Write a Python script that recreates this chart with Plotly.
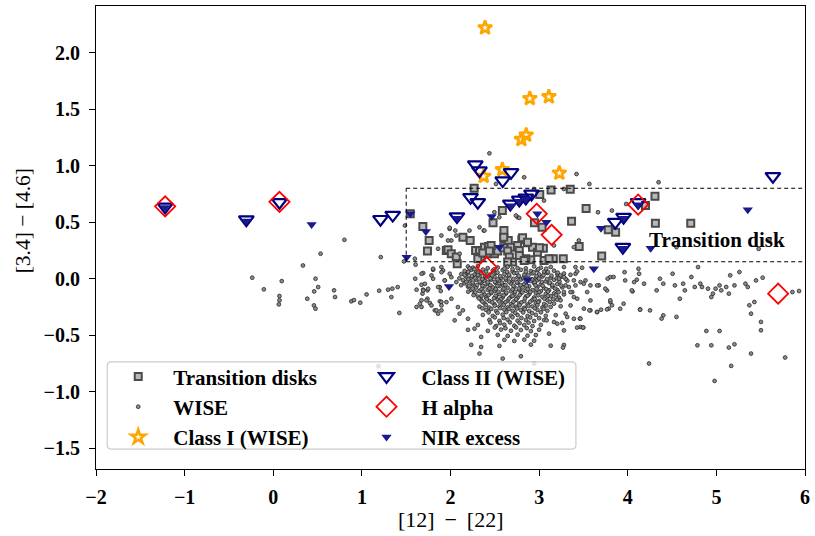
import plotly.graph_objects as go

# ---------------- data ----------------
trans_x = [1.546, 1.688, 1.759, 1.74, 1.953, 2.267, 3.135, 3.351, 3.007, 4.307, 3.53, 2.585, 2.48, 3.366,
           2.947, 3.033, 2.603, 2.603, 2.14, 2.222, 3.452, 3.048, 2.805, 2.869, 2.925, 2.652, 2.683, 2.757,
           2.776, 3.78, 3.863, 4.312, 4.711, 4.2, 3.706, 3.16, 3.272, 2.906, 2.85, 1.972, 2.009, 2.065,
           2.076, 2.283, 2.327, 2.383, 2.428, 2.346, 2.413, 2.496, 2.533, 2.308, 2.364, 2.458, 2.439,
           2.6, 2.645, 2.664, 2.701, 2.6, 2.813, 2.869, 2.776, 2.832, 2.981, 3.056, 3.112, 2.645, 3.003]
trans_y = [0.574, 0.462, 0.338, 0.244, 0.25, 0.8, 0.785, 0.791, 0.744, 0.729, 0.62, 0.603, 0.494, 0.508,
           0.494, 0.455, 0.426, 0.353, 0.367, 0.338, 0.285, 0.27, 0.344, 0.318, 0.279, 0.338, 0.279, 0.294,
           0.25, 0.432, 0.411, 0.491, 0.491, 0.647, 0.2, 0.177, 0.177, 0.168, 0.177, 0.256, 0.221, 0.191,
           0.132, 0.25, 0.244, 0.279, 0.285, 0.191, 0.221, 0.221, 0.244, 0.177, 0.227, 0.294, 0.244,
           0.274, 0.244, 0.191, 0.147, 0.367, 0.362, 0.323, 0.206, 0.162, 0.235, 0.162, 0.177, 0.147, 0.274]

wise_points = [
    # sparse left part
    (0.803, 0.344), (0.534, 0.221), (0.335, 0.117), (1.213, 0.191), (-0.237, 0.009), (0.096, -0.021),
    (0.477, 0.0), (-0.106, -0.094), (0.07, -0.153), (0.07, -0.191), (0.063, -0.227), (0.384, -0.177),
    (0.462, -0.112), (0.507, -0.074), (0.459, -0.236), (0.477, -0.265), (0.686, -0.103), (0.697, -0.162),
    (0.881, -0.2), (0.911, -0.189), (0.982, -0.212), (1.053, -0.139), (1.195, -0.106), (1.296, -0.097),
    (1.344, -0.088), (1.404, -0.074), (1.333, -0.162), (1.423, -0.303), (1.475, 0.153), (1.606, 0.124),
    (1.602, 0.0), (1.692, 0.05), (1.804, 0.079), (1.897, 0.103), (1.617, -0.097), (1.673, -0.053),
    (1.692, -0.097), (1.74, -0.103), (1.684, -0.132), (1.673, -0.191), (1.74, -0.177), (1.767, -0.215),
    (1.673, -0.25), (1.617, -0.25), (1.823, -0.28), (1.86, -0.309), (1.897, -0.28), (1.879, -0.2),
    (1.897, -0.206), (1.804, 0.0), (1.879, -0.074), (1.89, -0.109), (1.935, -0.015), (1.916, 0.073),
    (1.187, -0.774),
    # above / inside the box
    (2.439, 1.109), (3.422, 0.926), (2.831, 0.897), (3.567, 0.838), (4.348, 0.853), (2.513, 0.838),
    (1.486, 0.47), (1.897, 0.382), (1.99, 0.441), (2.009, 0.338), (2.065, 0.382), (2.214, 0.426),
    (2.327, 0.455), (2.375, 0.426), (2.495, 0.588), (2.551, 0.544), (2.756, 0.544), (3.167, 0.294),
    (3.392, 0.279), (3.448, 0.338), (3.664, 0.588), (3.821, 0.603), (3.982, 0.661), (5.477, 0.264),
    (5.596, 0.338), (4.55, 0.279), (3.055, 0.691), (2.943, 0.794), (3.279, 0.794), (1.86, 0.265),
    (1.598, 0.177), (1.804, 0.088), (1.991, 0.45), (2.054, 0.426), (2.383, 0.426), (1.972, 0.338),
    (2.103, 0.221), (2.738, 0.559), (2.776, 0.538),
    # dense cluster
    (2.197, 0.108), (2.253, 0.097), (2.309, 0.112), (2.533, 0.099), (2.645, 0.105), (2.757, 0.094),
    (2.944, 0.109), (3.019, 0.098), (3.131, 0.104),
    (2.159, 0.069), (2.234, 0.078), (2.29, 0.066), (2.365, 0.081), (2.477, 0.07), (2.589, 0.076),
    (2.701, 0.064), (2.794, 0.079), (2.907, 0.068), (2.981, 0.075), (3.056, 0.062), (3.168, 0.071),
    (2.122, 0.041), (2.197, 0.05), (2.271, 0.037), (2.346, 0.048), (2.439, 0.036), (2.514, 0.052),
    (2.608, 0.04), (2.72, 0.049), (2.832, 0.035), (2.925, 0.047), (3.0, 0.038), (3.093, 0.051),
    (3.205, 0.04), (3.28, 0.046),
    (2.178, 0.019), (2.234, 0.008), (2.327, 0.021), (2.402, 0.01), (2.496, 0.018), (2.57, 0.006),
    (2.664, 0.02), (2.757, 0.011), (2.869, 0.017), (2.963, 0.005), (3.037, 0.019), (3.131, 0.009),
    (3.243, 0.016),
    (2.14, -0.012), (2.215, -0.022), (2.29, -0.009), (2.383, -0.019), (2.458, -0.008), (2.552, -0.021),
    (2.626, -0.011), (2.701, -0.018), (2.794, -0.007), (2.907, -0.02), (2.981, -0.013), (3.075, -0.024),
    (3.168, -0.01), (3.318, -0.017),
    (2.159, -0.041), (2.253, -0.05), (2.346, -0.038), (2.421, -0.047), (2.514, -0.04), (2.589, -0.052),
    (2.682, -0.043), (2.757, -0.036), (2.832, -0.049), (2.944, -0.04), (3.019, -0.051), (3.112, -0.039),
    (3.205, -0.047),
    (2.197, -0.07), (2.29, -0.079), (2.383, -0.068), (2.477, -0.077), (2.552, -0.066), (2.645, -0.081),
    (2.72, -0.071), (2.813, -0.078), (2.888, -0.067), (2.981, -0.075), (3.056, -0.083), (3.149, -0.069),
    (3.262, -0.077),
    (2.234, -0.099), (2.327, -0.109), (2.421, -0.098), (2.496, -0.108), (2.589, -0.1), (2.682, -0.111),
    (2.776, -0.097), (2.851, -0.106), (2.925, -0.101), (3.019, -0.11), (3.112, -0.102), (3.205, -0.099),
    (2.271, -0.129), (2.383, -0.138), (2.458, -0.127), (2.552, -0.136), (2.626, -0.131), (2.72, -0.14),
    (2.794, -0.128), (2.888, -0.137), (2.963, -0.126), (3.075, -0.135), (3.168, -0.13), (3.28, -0.139),
    (2.309, -0.158), (2.402, -0.167), (2.514, -0.156), (2.589, -0.165), (2.682, -0.159), (2.757, -0.168),
    (2.851, -0.157), (2.944, -0.166), (3.037, -0.16), (3.131, -0.155), (3.224, -0.167),
    (2.346, -0.188), (2.439, -0.197), (2.533, -0.186), (2.645, -0.195), (2.738, -0.189), (2.832, -0.198),
    (2.925, -0.187), (3.0, -0.196), (3.093, -0.19), (3.205, -0.185),
    (2.383, -0.218), (2.496, -0.226), (2.589, -0.215), (2.682, -0.225), (2.776, -0.219), (2.869, -0.228),
    (2.963, -0.216), (3.056, -0.224), (3.168, -0.22),
    (2.327, -0.247), (2.439, -0.256), (2.552, -0.245), (2.645, -0.254), (2.738, -0.248), (2.832, -0.257),
    (2.925, -0.246), (3.037, -0.255), (3.131, -0.249), (3.243, -0.244),
    (2.402, -0.276), (2.514, -0.285), (2.608, -0.274), (2.701, -0.284), (2.794, -0.277), (2.888, -0.286),
    (2.981, -0.275), (3.093, -0.283),
    (2.365, -0.32), (2.477, -0.329), (2.589, -0.318), (2.682, -0.327), (2.757, -0.321), (2.869, -0.33),
    (2.963, -0.319), (3.075, -0.328), (3.187, -0.322),
    (2.439, -0.364), (2.552, -0.373), (2.645, -0.362), (2.757, -0.371), (2.851, -0.365), (2.944, -0.374),
    (3.056, -0.366),
    (2.309, -0.409), (2.514, -0.418), (2.608, -0.407), (2.72, -0.416), (2.832, -0.41), (2.925, -0.419),
    (3.019, -0.408),
    (2.197, -0.452), (2.421, -0.461), (2.57, -0.45), (2.682, -0.46), (2.794, -0.454), (2.907, -0.463),
    (3.0, -0.451),
    (2.533, -0.497), (2.645, -0.506), (2.757, -0.495), (2.869, -0.504), (2.963, -0.498),
    (2.608, -0.541), (2.72, -0.55), (2.832, -0.539), (2.944, -0.548),
    (2.234, -0.585), (2.552, -0.594), (2.907, -0.583), (3.131, -0.592), (3.28, -0.586),
    # dense cluster, points between the rows above
    (2.215, 0.091), (2.27, 0.084), (2.42, 0.093), (2.49, 0.082), (2.61, 0.09), (2.70, 0.085),
    (2.85, 0.092), (2.99, 0.083), (3.08, 0.089),
    (2.20, 0.061), (2.31, 0.054), (2.40, 0.063), (2.53, 0.055), (2.64, 0.06), (2.75, 0.052),
    (2.85, 0.062), (2.94, 0.056), (3.10, 0.059), (3.21, 0.053),
    (2.16, 0.031), (2.24, 0.024), (2.31, 0.033), (2.39, 0.026), (2.47, 0.03), (2.56, 0.022),
    (2.66, 0.034), (2.77, 0.025), (2.88, 0.031), (2.97, 0.023), (3.05, 0.032), (3.14, 0.027),
    (3.24, 0.03),
    (2.10, 0.003), (2.2, -0.004), (2.28, 0.005), (2.36, -0.003), (2.45, 0.002), (2.53, -0.006),
    (2.62, 0.004), (2.71, -0.002), (2.82, 0.006), (2.92, -0.005), (3.0, 0.001), (3.09, -0.003),
    (3.2, 0.004), (3.3, -0.002),
    (2.18, -0.027), (2.25, -0.034), (2.33, -0.026), (2.42, -0.032), (2.5, -0.028), (2.58, -0.035),
    (2.66, -0.025), (2.75, -0.031), (2.85, -0.027), (2.95, -0.033), (3.03, -0.029), (3.12, -0.034),
    (3.23, -0.026),
    (2.12, -0.057), (2.21, -0.063), (2.3, -0.055), (2.36, -0.062), (2.45, -0.058), (2.53, -0.064),
    (2.62, -0.056), (2.71, -0.061), (2.79, -0.057), (2.86, -0.063), (2.96, -0.059), (3.04, -0.062),
    (3.15, -0.056), (3.25, -0.061),
    (2.25, -0.087), (2.35, -0.093), (2.44, -0.086), (2.51, -0.092), (2.6, -0.088), (2.7, -0.094),
    (2.77, -0.086), (2.87, -0.091), (2.97, -0.089), (3.08, -0.093), (3.18, -0.087),
    (2.2, -0.115), (2.28, -0.121), (2.37, -0.114), (2.46, -0.12), (2.54, -0.116), (2.63, -0.122),
    (2.73, -0.115), (2.81, -0.12), (2.9, -0.117), (3.0, -0.121), (3.1, -0.114), (3.22, -0.119),
    (2.26, -0.145), (2.35, -0.151), (2.43, -0.144), (2.51, -0.15), (2.6, -0.146), (2.7, -0.152),
    (2.78, -0.145), (2.87, -0.15), (2.99, -0.147), (3.1, -0.151), (3.19, -0.144),
    (2.32, -0.174), (2.41, -0.18), (2.49, -0.173), (2.57, -0.179), (2.66, -0.175), (2.74, -0.181),
    (2.84, -0.174), (2.95, -0.179), (3.06, -0.176), (3.16, -0.18),
    (2.36, -0.203), (2.47, -0.209), (2.55, -0.202), (2.62, -0.208), (2.71, -0.204), (2.8, -0.21),
    (2.9, -0.203), (2.99, -0.208), (3.12, -0.205),
    (2.4, -0.233), (2.5, -0.239), (2.6, -0.232), (2.7, -0.238), (2.78, -0.234), (2.88, -0.24),
    (2.98, -0.233), (3.08, -0.237),
    (2.36, -0.262), (2.46, -0.268), (2.56, -0.261), (2.66, -0.267), (2.75, -0.263), (2.84, -0.269),
    (2.95, -0.262), (3.05, -0.266),
    (2.43, -0.297), (2.53, -0.303), (2.63, -0.296), (2.73, -0.302), (2.82, -0.298), (2.92, -0.304),
    (3.02, -0.297),
    (2.5, -0.342), (2.6, -0.348), (2.7, -0.341), (2.8, -0.347), (2.9, -0.343), (3.0, -0.349),
    (2.45, -0.387), (2.56, -0.393), (2.67, -0.386), (2.78, -0.392), (2.88, -0.388),
    (2.5, -0.432), (2.62, -0.438), (2.74, -0.431), (2.86, -0.437),
    # cluster fringe
    (1.673, 0.044), (1.785, 0.029), (1.898, 0.058), (1.991, 0.044), (1.692, -0.104), (1.748, -0.089),
    (1.86, -0.074), (1.935, -0.015), (2.01, 0.014), (2.066, -0.03), (1.655, -0.221), (1.729, -0.192),
    (1.785, -0.236), (1.842, -0.28), (1.898, -0.236), (1.954, -0.207), (2.01, -0.177), (2.084, -0.251),
    (2.14, -0.28), (2.047, -0.368), (2.103, -0.309), (2.197, -0.354), (2.271, -0.442), (2.346, -0.515),
    (1.711, -0.045), (3.411, 0.044), (3.467, -0.03), (3.523, -0.015), (3.374, -0.118), (3.43, -0.177),
    (3.355, -0.236), (3.505, -0.265), (3.299, -0.309), (3.392, -0.354), (3.467, -0.427), (3.28, -0.457),
    (3.205, -0.398), (3.112, -0.486), (3.579, -0.28), (3.673, -0.059), (3.766, -0.104), (3.804, -0.207),
    (3.785, -0.265), (3.654, -0.295), (3.579, -0.192), (3.542, -0.118),
    (2.794, -0.686), (2.589, -0.706), (2.944, -0.75), (2.327, -0.662), (3.269, -0.609), (2.346, -0.604),
    (3.46, -0.353), (3.497, -0.432), (3.085, -0.368), (3.168, -0.383),
    (3.485, 0.097), (3.429, 0.064), (3.354, 0.035), (3.28, 0.014), (3.224, 0.0), (3.298, -0.059),
    # right part
    (3.964, 0.058), (4.121, 0.088), (4.128, 0.044), (3.803, 0.014), (3.773, 0.0), (3.654, -0.059),
    (3.579, -0.059), (4.102, -0.009), (4.072, -0.03), (4.184, -0.044), (4.054, -0.112), (3.803, -0.191),
    (3.766, -0.271), (3.699, -0.274), (3.654, -0.294), (3.567, -0.28), (3.953, -0.221), (4.139, -0.271),
    (4.251, -0.28), (3.28, 0.103), (3.41, 0.103), (3.392, -0.015), (3.336, -0.073), (3.41, -0.059),
    (3.28, -0.118), (3.354, -0.118), (3.242, -0.191), (3.392, -0.162), (3.504, -0.044), (3.747, -0.088),
    (3.822, -0.235), (3.915, -0.265), (3.84, 0.015), (3.971, -0.015), (4.046, -0.103), (3.317, -0.338),
    (3.467, -0.353), (3.429, -0.432), (3.497, -0.432), (3.261, -0.391),
    (4.326, -0.103), (4.363, 0.0), (4.401, -0.044), (4.506, 0.044), (4.532, -0.059), (4.625, -0.044),
    (4.644, -0.103), (4.588, -0.177), (4.718, 0.015), (4.756, -0.073), (4.793, 0.103), (4.819, -0.044),
    (4.838, -0.073), (4.905, -0.088), (4.943, -0.162), (4.961, -0.132), (4.991, -0.088), (5.036, -0.059),
    (5.055, -0.103), (5.111, -0.073), (5.141, -0.132), (5.156, 0.03), (5.204, -0.059), (5.26, 0.059),
    (5.328, -0.044), (5.354, -0.073), (5.372, -0.235), (5.391, -0.309), (5.429, -0.206), (5.447, -0.015),
    (5.503, -0.382), (5.522, 0.009), (5.503, -0.456), (5.036, -0.462), (4.887, -0.462), (4.55, -0.338),
    (4.401, -0.324), (4.382, -0.353), (4.139, -0.274), (5.858, -0.118), (5.933, -0.109),
    (4.786, -0.589), (4.943, -0.589), (5.141, -0.609), (5.204, -0.58), (5.391, -0.662), (5.776, -0.697),
    (5.167, -0.771), (4.98, -0.904), (4.24, -0.75),
]
wise_x = [p[0] for p in wise_points]
wise_y = [p[1] for p in wise_points]

class1_x = [2.39, 2.895, 3.11, 2.854, 2.80, 2.375, 2.585, 3.228]
class1_y = [2.22, 1.594, 1.61, 1.27, 1.232, 0.906, 0.965, 0.935]

class2_x = [-1.22, -0.304, 0.07, 1.21, 1.348, 2.28, 2.327, 2.683, 2.589, 2.226, 2.308, 2.675, 2.776,
            2.85, 2.914, 2.073, 3.859, 3.953, 3.945, 4.117, 5.638]
class2_y = [0.635, 0.523, 0.676, 0.526, 0.563, 1.009, 0.956, 0.941, 0.868, 0.72, 0.676, 0.662, 0.697,
            0.715, 0.75, 0.55, 0.5, 0.544, 0.279, 0.676, 0.906]

halpha_x = [-1.22, 0.07, 2.973, 3.141, 2.409, 4.117, 5.697]
halpha_y = [0.64, 0.68, 0.574, 0.388, 0.102, 0.656, -0.132]

nir_x = [-1.22, -0.304, 0.433, 1.546, 1.722, 1.505, 2.465, 3.082, 2.981, 2.552, 3.698, 4.259, 5.354,
         3.617, 4.117, 1.983, 2.869, 2.683, 2.776, 2.85, 3.953, 3.945, 2.077]
nir_y = [0.63, 0.51, 0.479, 0.574, 0.417, 0.19, 0.55, 0.5, 0.575, 0.279, 0.447, 0.27, 0.609,
         0.088, 0.655, -0.068, -0.009, 0.645, 0.685, 0.705, 0.535, 0.27, 0.535]

box_x = [1.5, 6.0]
box_y = [0.15, 0.8]

xticks = [-2, -1, 0, 1, 2, 3, 4, 5, 6]
yticks = [-1.5, -1.0, -0.5, 0.0, 0.5, 1.0, 1.5, 2.0]

# ---------------- figure ----------------
fig = go.Figure()

fig.add_trace(go.Scatter(x=trans_x, y=trans_y, mode="markers", name="Transition disks", legend="legend",
                         marker=dict(symbol="square", size=7, color="#b8b8b8",
                                     line=dict(color="#4a4a4a", width=2))))
fig.add_trace(go.Scatter(x=wise_x, y=wise_y, mode="markers", name="WISE", legend="legend",
                         marker=dict(symbol="circle", size=3.8, color="#8c8c8c",
                                     line=dict(color="#262626", width=0.8))))
fig.add_trace(go.Scatter(x=class1_x, y=class1_y, mode="markers", name="Class I (WISE)", legend="legend",
                         marker=dict(symbol="star-open", size=10.5, color="#FFA500",
                                     line=dict(color="#FFA500", width=2.6))))
fig.add_trace(go.Scatter(x=class2_x, y=class2_y, mode="markers", name="Class II (WISE)", legend="legend2",
                         marker=dict(symbol="triangle-down-open", size=13, color="#000080",
                                     line=dict(color="#000080", width=2.2))))
fig.add_trace(go.Scatter(x=halpha_x, y=halpha_y, mode="markers", name="H alpha", legend="legend2",
                         marker=dict(symbol="diamond-open", size=15.5, color="#FF0000",
                                     line=dict(color="#FF0000", width=1.8))))
fig.add_trace(go.Scatter(x=nir_x, y=nir_y, mode="markers", name="NIR excess", legend="legend2",
                         marker=dict(symbol="triangle-down", size=9, color="#1a1a8e",
                                     line=dict(width=0))))

dash = dict(color="black", width=1, dash="4px,3px")
fig.add_shape(type="line", x0=box_x[0], x1=box_x[1], y0=box_y[1], y1=box_y[1], line=dash)
fig.add_shape(type="line", x0=box_x[0], x1=box_x[1], y0=box_y[0], y1=box_y[0], line=dash)
fig.add_shape(type="line", x0=box_x[0], x1=box_x[0], y0=box_y[0], y1=box_y[1], line=dash)

fig.add_annotation(x=4.22, y=0.346, text="Transition disk", showarrow=False, xanchor="left",
                   yanchor="middle", font=dict(family="Liberation Serif", size=21, color="black",
                                                weight="bold"))

# legend frame (semi-transparent, rounded) behind the two legend columns
x0, x1, y0, y1 = 0.0158, 0.6769, 0.0431, 0.2313
rx, ry = 0.0056, 0.0086
frame = (f"M {x0+rx},{y0} L {x1-rx},{y0} Q {x1},{y0} {x1},{y0+ry} L {x1},{y1-ry} "
         f"Q {x1},{y1} {x1-rx},{y1} L {x0+rx},{y1} Q {x0},{y1} {x0},{y1-ry} "
         f"L {x0},{y0+ry} Q {x0},{y0} {x0+rx},{y0} Z")
fig.add_shape(type="path", path=frame, xref="paper", yref="paper", layer="above",
              fillcolor="rgba(255,255,255,0.8)", line=dict(color="#cccccc", width=1.2))

fig.add_annotation(xref="paper", yref="paper", x=0.5, y=-0.108,
                   text="[12]\u00a0\u2009\u2212\u2009\u00a0[22]",
                   showarrow=False, xanchor="center", yanchor="middle",
                   font=dict(family="Liberation Serif", size=22, color="black"))
fig.add_annotation(xref="paper", yref="paper", x=-0.103, y=0.537,
                   text="[3.4]\u00a0\u2212\u00a0[4.6]",
                   textangle=-90, showarrow=False, xanchor="center", yanchor="middle",
                   font=dict(family="Liberation Serif", size=21.5, color="black"))

tickfont = dict(family="Liberation Serif", size=20, color="black", weight="bold")
axis_common = dict(showline=True, linecolor="black", linewidth=1, mirror=True, ticks="outside",
                   ticklen=6, tickwidth=1, tickcolor="black", showgrid=False, zeroline=False,
                   tickfont=tickfont, ticklabeloverflow="allow")

fig.update_xaxes(range=[-2, 6], tickvals=xticks,
                 ticktext=[f"{v:d}".replace("-", "\u2212") for v in xticks],
                 ticklabelstandoff=4, **axis_common)
fig.update_yaxes(range=[-1.683, 2.412], tickvals=yticks,
                 ticktext=[f"{v:.1f}".replace("-", "\u2212") for v in yticks],
                 ticklabelstandoff=5, **axis_common)

legend_font = dict(family="Liberation Serif", size=21, color="black", weight="bold")
legend_common = dict(orientation="v", yanchor="top", xanchor="left", y=0.2435,
                     bgcolor="rgba(0,0,0,0)", borderwidth=0, itemwidth=60, itemsizing="trace",
                     tracegroupgap=0, traceorder="normal", font=legend_font)

fig.update_layout(
    width=815, height=536,
    margin=dict(l=96, r=5, t=5, b=67),
    plot_bgcolor="white", paper_bgcolor="white",
    legend=dict(x=0.0102, **legend_common),
    legend2=dict(x=0.3604, **legend_common),
    showlegend=True,
)

# remove the browser's default 8px page margin so the figure fills the window exactly
fig.write_html("out.html", config={"displayModeBar": False},
               post_script="document.body.style.margin='0';")
